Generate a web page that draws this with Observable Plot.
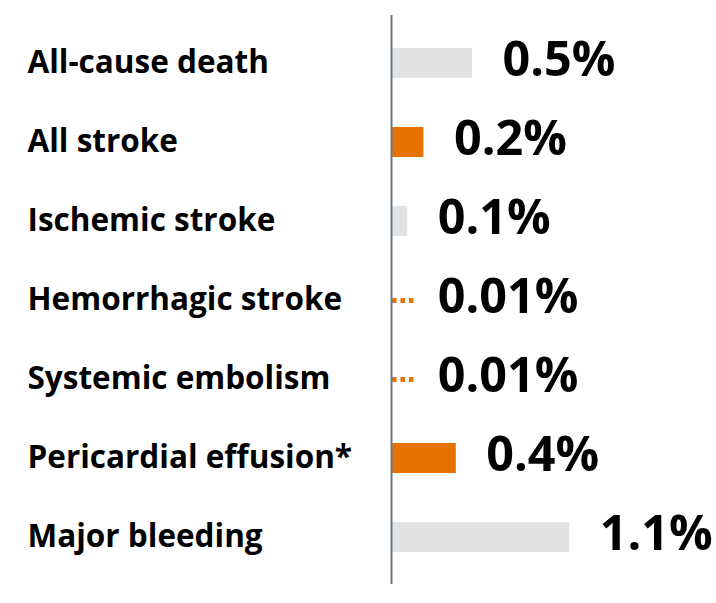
<!DOCTYPE html>
<html>
<head>
<meta charset="utf-8">
<script src="https://cdn.jsdelivr.net/npm/d3@7"></script>
<script src="https://cdn.jsdelivr.net/npm/@observablehq/plot@0.6"></script>
<style>
  html, body { margin: 0; padding: 0; background: #fff; }
  #chart { width: 716px; height: 603px; }
</style>
</head>
<body>
<div id="chart"></div>
<script>
const categories = ["All-cause death", "All stroke", "Ischemic stroke", "Hemorrhagic stroke", "Systemic embolism", "Pericardial effusion*", "Major bleeding"];
const values = [0.5, 0.2, 0.1, 0.01, 0.01, 0.4, 1.1];
const valueLabels = ["0.5%", "0.2%", "0.1%", "0.01%", "0.01%", "0.4%", "1.1%"];
const highlighted = [false, true, false, true, true, true, false];

const ORANGE = "#e67300";
const GRAY = "#e1e2e3";
const FONT = "'Open Sans', 'Noto Sans', sans-serif";
const TINY = 0.05;      // values below this are shown as a dotted stub
const STUB = 0.14;      // stub length in data units
const LABEL_MIN = 0.1;  // labels never start left of this value

const rows = categories.map((c, i) => ({
  category: c, value: values[i], label: valueLabels[i], hi: highlighted[i]
}));

const chart = Plot.plot({
  width: 716,
  height: 603,
  marginLeft: 391,
  marginRight: 5,
  marginTop: 15,
  marginBottom: 19,
  style: { fontFamily: FONT, background: "#fff", overflow: "visible" },
  x: { domain: [0, 1.975], axis: null },
  y: { domain: categories, axis: null, paddingInner: 0.623, paddingOuter: 0.39 },
  marks: [
    Plot.barX(rows.filter(d => d.value >= TINY), {
      x: "value", y: "category",
      fill: d => d.hi ? ORANGE : GRAY
    }),
    Plot.ruleY(rows.filter(d => d.value < TINY), {
      y: "category", x1: () => 0, x2: () => STUB,
      stroke: d => d.hi ? ORANGE : GRAY,
      strokeWidth: 5, strokeDasharray: "4.5,4", dx: 1
    }),
    Plot.ruleX([0], { stroke: "#6b7a84", strokeWidth: 2 }),
    Plot.text(rows, {
      y: "category", text: "category", frameAnchor: "left",
      textAnchor: "start", dx: -364, dy: -1, fontSize: 31.5, fontWeight: 700, fill: "#000"
    }),
    Plot.text(rows, {
      y: "category", x: d => Math.max(d.value, LABEL_MIN), text: "label",
      textAnchor: "start", dx: 30, dy: -3, fontSize: 48.5, fontWeight: 700, fill: "#000"
    })
  ]
});
document.getElementById("chart").appendChild(chart);
</script>
</body>
</html>
